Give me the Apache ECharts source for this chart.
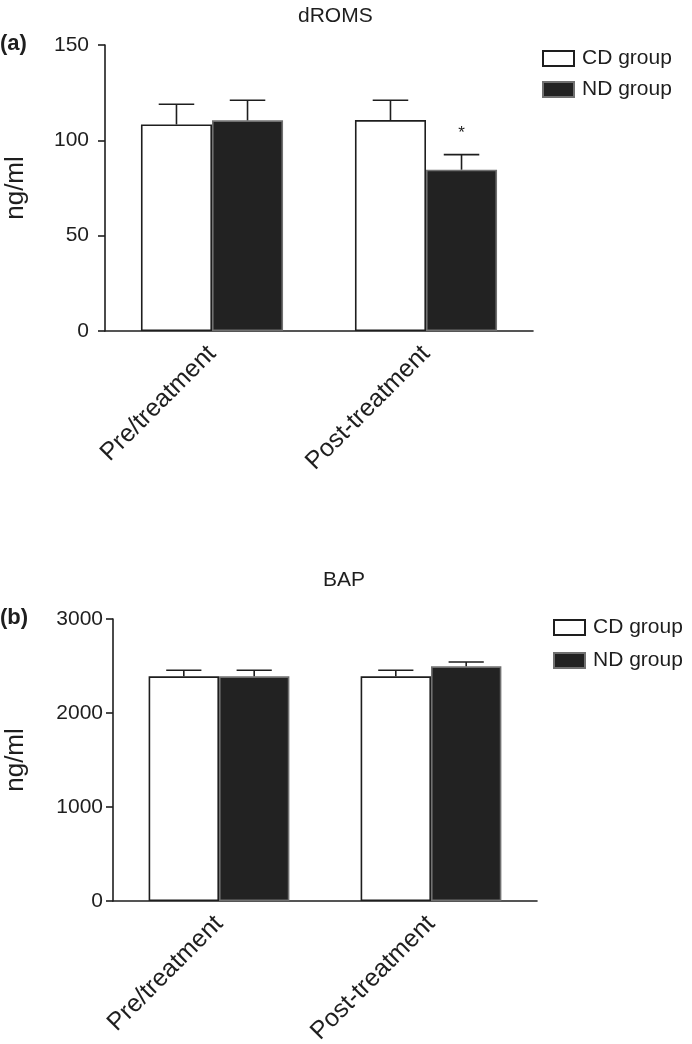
<!DOCTYPE html>
<html>
<head>
<meta charset="utf-8">
<script src="https://cdn.jsdelivr.net/npm/echarts@6/dist/echarts.min.js"></script>
<style>
html,body{margin:0;padding:0;background:#fff;}
#chart{width:692px;height:1044px;}
</style>
</head>
<body>
<div id="chart"></div>
<script>
// ---- data ----
const categories = ['Pre/treatment', 'Post-treatment'];
const groupNames = ['CD group', 'ND group'];

const dromsCD = [108.3, 110.6];
const dromsND = [110.5, 84.6];
const dromsCDSem = [10.6, 10.4];
const dromsNDSem = [10.5, 7.9];
const dromsMarks = [['', ''], ['', '*']]; // [CD, ND] per category

const bapCD = [2390, 2390];
const bapND = [2390, 2497];
const bapCDSem = [64, 64];
const bapNDSem = [64, 46];
const bapMarks = [['', ''], ['', '']];

const dromsTicks = {min: 0, max: 150, interval: 50};
const bapTicks = {min: 0, max: 3000, interval: 1000};

// ---- styling ----
const FONT = 'Liberation Sans, Arial, Helvetica, sans-serif';
const INK = '#1e1e1e';
const DARK = '#222222';
const CAT_GAP = 0.336;

function errData(cd, nd, cdSem, ndSem) {
  const out = [];
  for (let i = 0; i < categories.length; i++) {
    out.push([i, cd[i], cdSem[i], 0]);
    out.push([i, nd[i], ndSem[i], 1]);
  }
  return out;
}

function makeErrRender(marks) {
  return function (params, api) {
    const cat = api.value(0), val = api.value(1), sem = api.value(2), g = api.value(3);
    const band = api.size([1, 0])[0];
    const bw = band * (1 - CAT_GAP) / 2;
    const base = api.coord([cat, val]);
    const cx = base[0] + (g === 0 ? -bw / 2 : bw / 2);
    const top = api.coord([cat, val + sem])[1];
    const cap = bw * 0.5;
    const st = {stroke: INK, lineWidth: 1.6};
    const children = [
      {type: 'line', shape: {x1: cx, y1: base[1], x2: cx, y2: top}, style: st},
      {type: 'line', shape: {x1: cx - cap / 2, y1: top, x2: cx + cap / 2, y2: top}, style: st}
    ];
    const m = marks[cat][g];
    if (m) {
      children.push({type: 'text', style: {text: m, x: cx, y: top - 21, align: 'center', verticalAlign: 'middle', fontSize: 17, fontFamily: FONT, fill: INK}});
    }
    return {type: 'group', children: children};
  };
}

function xAxisCfg(gridIndex) {
  return {
    type: 'category', gridIndex: gridIndex, data: categories,
    axisLine: {lineStyle: {color: INK, width: 1.6}},
    axisTick: {alignWithLabel: true, length: 7, lineStyle: {color: INK, width: 1.6}},
    axisLabel: {rotate: 45, interval: 0, margin: 19, fontSize: 25, color: INK, fontFamily: FONT}
  };
}
function yAxisCfg(gridIndex, t, gap, margin) {
  return {
    type: 'value', gridIndex: gridIndex, min: t.min, max: t.max, interval: t.interval,
    name: 'ng/ml', nameLocation: 'middle', nameRotate: 90, nameGap: gap,
    nameTextStyle: {fontSize: 26, color: INK, fontFamily: FONT},
    splitLine: {show: false},
    axisLine: {show: true, lineStyle: {color: INK, width: 1.6}},
    axisTick: {show: true, length: 7, lineStyle: {color: INK, width: 1.6}},
    axisLabel: {fontSize: 21, color: INK, fontFamily: FONT, margin: margin, formatter: function (v) { return String(v); }}
  };
}
const cdStyle = {color: '#ffffff', borderColor: INK, borderWidth: 1.6};
const ndStyle = {color: DARK, borderColor: '#707070', borderWidth: 1.6};

function barSeries(name, data, style, idx) {
  return {
    type: 'bar', name: name, data: data, xAxisIndex: idx, yAxisIndex: idx,
    barGap: 0, barCategoryGap: (CAT_GAP * 100) + '%', itemStyle: style,
    emphasis: {disabled: true}
  };
}
function errSeries(data, marks, idx) {
  return {
    type: 'custom', data: data, xAxisIndex: idx, yAxisIndex: idx,
    renderItem: makeErrRender(marks), clip: false, z: 3,
    encode: {x: 0, y: 1}, silent: true
  };
}
function legendCfg(top, left, gap) {
  return {
    orient: 'vertical', top: top, left: left, itemWidth: 31, itemHeight: 15, itemGap: gap,
    icon: 'rect',
    data: groupNames, selectedMode: false,
    textStyle: {fontSize: 21, color: INK, fontFamily: FONT, padding: [0, 0, 0, 3]}
  };
}

const chart = echarts.init(document.getElementById('chart'), null, {renderer: 'canvas'});
chart.setOption({
  animation: false,
  backgroundColor: '#ffffff',
  title: [
    {text: 'dROMS', left: 293, top: 1, textStyle: {fontSize: 21, fontWeight: 'normal', color: INK, fontFamily: FONT}},
    {text: 'BAP', left: 318, top: 565, textStyle: {fontSize: 21, fontWeight: 'normal', color: INK, fontFamily: FONT}}
  ],
  graphic: [
    {type: 'text', left: 0, top: 33, style: {text: '(a)', fontSize: 22, fontWeight: 'bold', fill: INK, fontFamily: FONT}},
    {type: 'text', left: 0, top: 607, style: {text: '(b)', fontSize: 22, fontWeight: 'bold', fill: INK, fontFamily: FONT}}
  ],
  legend: [legendCfg(43, 537, 10), legendCfg(612, 548, 12)],
  grid: [
    {left: 105, right: 159, top: 45, height: 286, outerBoundsMode: 'none', containLabel: false},
    {left: 113, right: 155, top: 619, height: 282, outerBoundsMode: 'none', containLabel: false}
  ],
  xAxis: [xAxisCfg(0), xAxisCfg(1)],
  yAxis: [yAxisCfg(0, dromsTicks, 76, 16), yAxisCfg(1, bapTicks, 84, 10)],
  series: [
    barSeries(groupNames[0], dromsCD, cdStyle, 0),
    barSeries(groupNames[1], dromsND, ndStyle, 0),
    errSeries(errData(dromsCD, dromsND, dromsCDSem, dromsNDSem), dromsMarks, 0),
    barSeries(groupNames[0], bapCD, cdStyle, 1),
    barSeries(groupNames[1], bapND, ndStyle, 1),
    errSeries(errData(bapCD, bapND, bapCDSem, bapNDSem), bapMarks, 1)
  ]
});
</script>
</body>
</html>
